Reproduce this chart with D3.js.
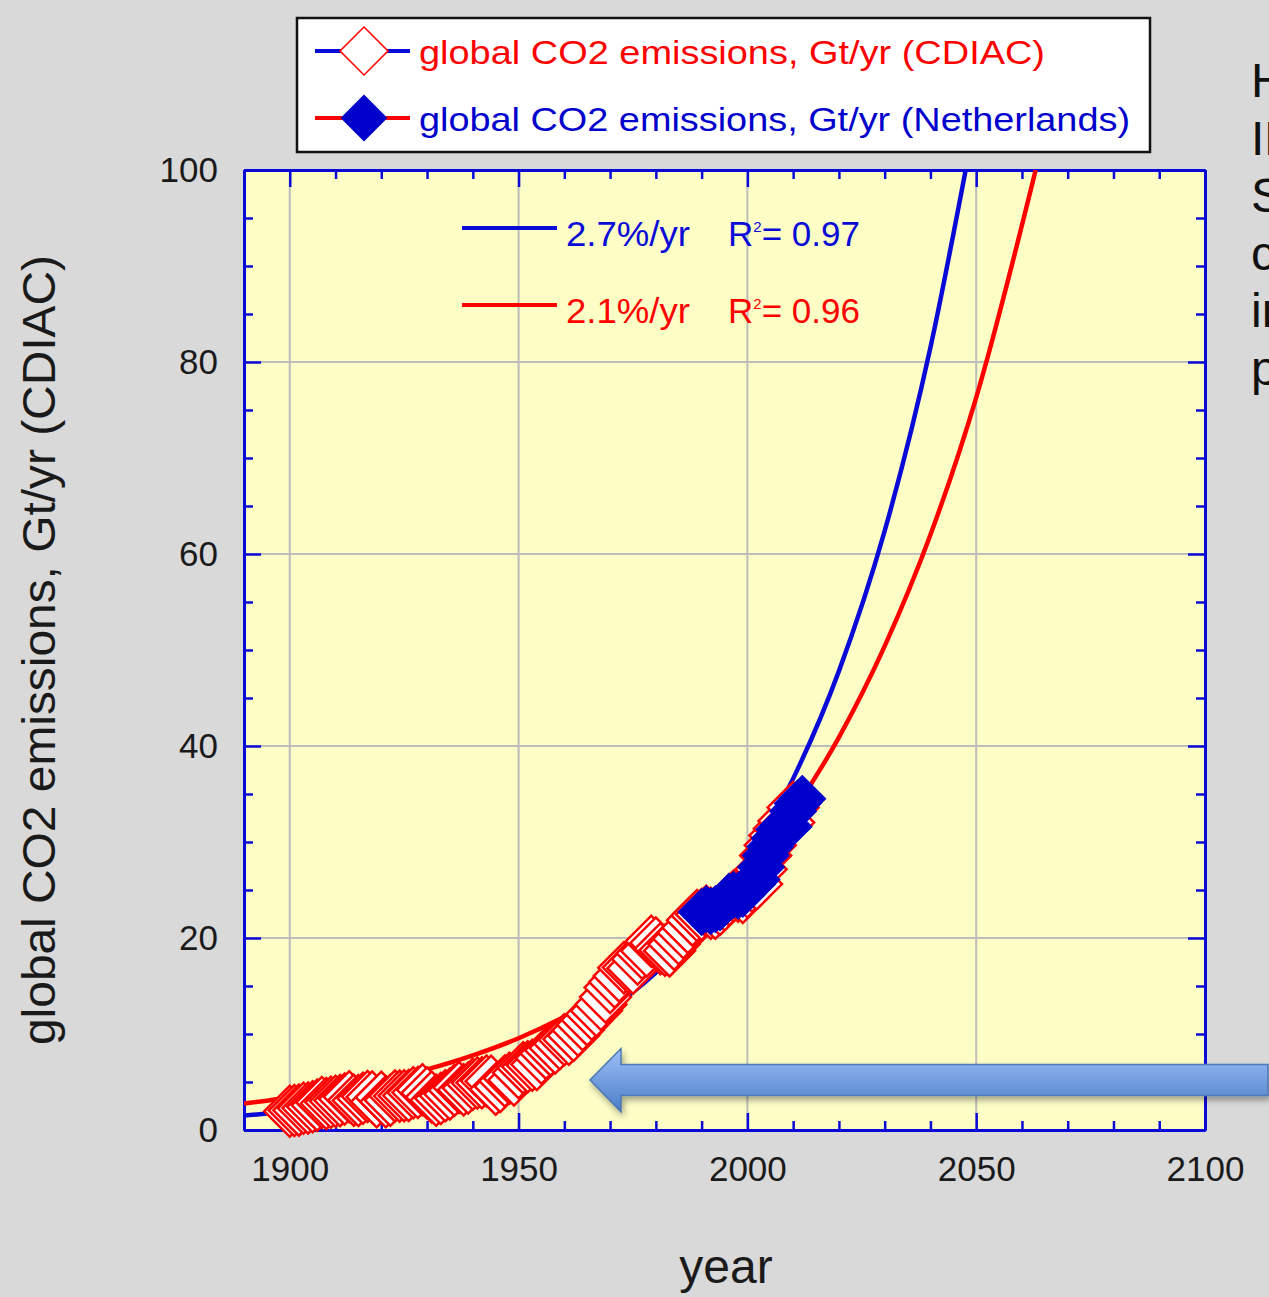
<!DOCTYPE html>
<html>
<head>
<meta charset="utf-8">
<script src="https://cdn.jsdelivr.net/npm/d3@7"></script>
<style>
  body { margin: 0; background: #d9d9d9; overflow: hidden; }
  text { font-family: "Liberation Sans", Arial, Helvetica, sans-serif; }
</style>
</head>
<body>
<svg id="chart" width="1269" height="1297"></svg>
<script>
// global CO2 emissions, Gt CO2 per year (CDIAC), one value per year from 1900
const cdiacStart = 1900;
const cdiacValues = [
  1.96, 2.02, 2.07, 2.26, 2.29, 2.43, 2.59, 2.87, 2.75, 2.88,
  3.00, 3.06, 3.22, 3.46, 3.11, 3.07, 3.30, 3.50, 3.43, 2.95,
  3.41, 2.94, 3.10, 3.55, 3.53, 3.57, 3.60, 3.89, 3.90, 4.20,
  3.86, 3.44, 3.10, 3.27, 3.57, 3.76, 4.14, 4.43, 4.18, 4.37,
  4.76, 4.89, 4.92, 5.10, 5.07, 4.25, 4.54, 5.10, 5.38, 5.20,
  5.97, 6.47, 6.58, 6.75, 6.83, 7.48, 7.98, 8.32, 8.54, 8.99,
  9.41, 9.45, 9.84, 10.38, 10.97, 11.47, 12.05, 12.43, 13.07, 13.85,
  14.85, 15.42, 16.03, 16.91, 16.94, 16.84, 17.82, 18.42, 18.64, 19.67,
  19.47, 18.88, 18.73, 18.66, 19.35, 19.93, 20.54, 21.08, 21.86, 22.34,
  22.45, 22.78, 22.58, 22.58, 22.96, 23.44, 23.97, 24.37, 24.34, 24.22,
  24.79, 25.38, 25.63, 27.17, 28.60, 29.65, 30.67, 31.39, 32.18, 32.02,
  33.59
];

// global CO2 emissions, Gt CO2 per year (Netherlands / PBL), from 1990
const nlStart = 1990;
const nlValues = [
  22.7, 23.0, 22.8, 23.0, 23.2, 23.7, 24.3, 24.5, 24.4, 24.6,
  25.3, 25.6, 26.1, 27.4, 28.6, 29.5, 30.4, 31.3, 31.8, 31.6,
  33.2, 34.0, 34.5
];

// exponential fits
const fitBlueYears  = [1890, 1900, 1910, 1920, 1930, 1940, 1950, 1960, 1970, 1980, 1990, 2000, 2010, 2020, 2030, 2040, 2047.7];
const fitBlueValues = [1.5, 1.95, 2.55, 3.32, 4.34, 5.66, 7.39, 9.65, 12.6, 16.4, 21.5, 28.0, 36.6, 47.8, 62.4, 81.5, 100];
const fitRedYears   = [1890, 1900, 1910, 1920, 1930, 1940, 1950, 1960, 1970, 1980, 1990, 2000, 2010, 2020, 2030, 2040, 2050, 2063];
const fitRedValues  = [2.75, 3.38, 4.17, 5.13, 6.31, 7.77, 9.56, 11.8, 14.5, 17.8, 21.9, 27.0, 33.2, 40.9, 50.4, 62.0, 76.3, 100];

const xMajorTicks = [1900, 1950, 2000, 2050, 2100];
const yMajorTicks = [0, 20, 40, 60, 80, 100];

const legendLabels = [
  "global CO2 emissions, Gt/yr (CDIAC)",
  "global CO2 emissions, Gt/yr (Netherlands)"
];
const fitLabels = [
  { rate: "2.7%/yr", r2: "0.97" },
  { rate: "2.1%/yr", r2: "0.96" }
];
const sideWords = ["How", "IPCC", "Scenarios", "compare", "in", "projections"];

const BLUE = "#0a0ad8";
const RED = "#ff0000";

const svg = d3.select("#chart");

const x = d3.scaleLinear().domain([1890, 2100]).range([244, 1205]);
const y = d3.scaleLinear().domain([0, 100]).range([1130, 170]);

const defs = svg.append("defs");
defs.append("clipPath").attr("id", "plotClip")
  .append("rect")
  .attr("x", x(1890)).attr("y", y(100))
  .attr("width", x(2100) - x(1890)).attr("height", y(0) - y(100));

const grad = defs.append("linearGradient").attr("id", "arrowGrad")
  .attr("x1", 0).attr("y1", 0).attr("x2", 0).attr("y2", 1);
grad.append("stop").attr("offset", "0%").attr("stop-color", "#9dc0f7");
grad.append("stop").attr("offset", "100%").attr("stop-color", "#4a7dc7");

const shadow = defs.append("filter").attr("id", "shadow")
  .attr("x", "-10%").attr("y", "-30%").attr("width", "130%").attr("height", "180%");
shadow.append("feDropShadow")
  .attr("dx", 2).attr("dy", 4).attr("stdDeviation", 3)
  .attr("flood-color", "#000").attr("flood-opacity", 0.35);

// plot background
svg.append("rect")
  .attr("x", x(1890)).attr("y", y(100))
  .attr("width", x(2100) - x(1890)).attr("height", y(0) - y(100))
  .attr("fill", "#fdfdc6");

// grid
svg.append("g").selectAll("line")
  .data(xMajorTicks.filter(d => d < 2100))
  .join("line")
  .attr("x1", d => x(d)).attr("x2", d => x(d))
  .attr("y1", y(100)).attr("y2", y(0))
  .attr("stroke", "#bdbdbd").attr("stroke-width", 2);

svg.append("g").selectAll("line")
  .data(yMajorTicks.filter(d => d > 0 && d < 100))
  .join("line")
  .attr("x1", x(1890)).attr("x2", x(2100))
  .attr("y1", d => y(d)).attr("y2", d => y(d))
  .attr("stroke", "#bdbdbd").attr("stroke-width", 2);

// axes, ticks inward on all four sides
const xMinor = d3.range(1890, 2101, 10).filter(d => !xMajorTicks.includes(d));
const yMinor = d3.range(0, 101, 5).filter(d => !yMajorTicks.includes(d));

function styleAxis(g, keepLabels) {
  g.selectAll(".domain").attr("stroke", BLUE).attr("stroke-width", 3);
  g.selectAll(".tick line").attr("stroke", BLUE).attr("stroke-width", 2.5);
  if (!keepLabels) g.selectAll(".tick text").remove();
  else g.selectAll(".tick text")
    .attr("fill", "#1a1a1a")
    .style("font-size", "35px")
    .style("font-family", "'Liberation Sans', Arial, sans-serif");
}

svg.append("g").attr("transform", `translate(0,${y(0)})`)
  .call(d3.axisBottom(x).tickValues(xMinor).tickSize(-9).tickSizeOuter(0).tickFormat(""))
  .call(g => styleAxis(g, false));
svg.append("g").attr("transform", `translate(0,${y(0)})`)
  .call(d3.axisBottom(x).tickValues(xMajorTicks).tickSize(-17).tickSizeOuter(0).tickPadding(26).tickFormat(d3.format("d")))
  .call(g => styleAxis(g, true));
svg.append("g").attr("transform", `translate(0,${y(100)})`)
  .call(d3.axisTop(x).tickValues(xMinor).tickSize(-9).tickSizeOuter(0).tickFormat(""))
  .call(g => styleAxis(g, false));
svg.append("g").attr("transform", `translate(0,${y(100)})`)
  .call(d3.axisTop(x).tickValues(xMajorTicks).tickSize(-17).tickSizeOuter(0).tickFormat(""))
  .call(g => styleAxis(g, false));

svg.append("g").attr("transform", `translate(${x(1890)},0)`)
  .call(d3.axisLeft(y).tickValues(yMinor).tickSize(-9).tickSizeOuter(0).tickFormat(""))
  .call(g => styleAxis(g, false));
svg.append("g").attr("transform", `translate(${x(1890)},0)`)
  .call(d3.axisLeft(y).tickValues(yMajorTicks).tickSize(-17).tickSizeOuter(0).tickPadding(26))
  .call(g => styleAxis(g, true));
svg.append("g").attr("transform", `translate(${x(2100)},0)`)
  .call(d3.axisRight(y).tickValues(yMinor).tickSize(-9).tickSizeOuter(0).tickFormat(""))
  .call(g => styleAxis(g, false));
svg.append("g").attr("transform", `translate(${x(2100)},0)`)
  .call(d3.axisRight(y).tickValues(yMajorTicks).tickSize(-17).tickSizeOuter(0).tickFormat(""))
  .call(g => styleAxis(g, false));

// fit curves
const line = d3.line().x(d => x(d[0])).y(d => y(d[1])).curve(d3.curveMonotoneX);
const fits = [
  { pts: d3.zip(fitBlueYears, fitBlueValues), color: BLUE },
  { pts: d3.zip(fitRedYears, fitRedValues), color: RED }
];
svg.append("g").attr("clip-path", "url(#plotClip)")
  .selectAll("path")
  .data(fits)
  .join("path")
  .attr("d", d => line(d.pts))
  .attr("fill", "none")
  .attr("stroke", d => d.color)
  .attr("stroke-width", 4.5);

// markers: squares rotated 45deg
const diamond = size => d3.symbol().type(d3.symbolSquare).size(size)();

const cdiac = cdiacValues.map((v, i) => [cdiacStart + i, v]);
const nl = nlValues.map((v, i) => [nlStart + i, v]);

svg.append("g").selectAll("path")
  .data(cdiac)
  .join("path")
  .attr("d", diamond(1300))
  .attr("transform", d => `translate(${x(d[0])},${y(d[1])}) rotate(45)`)
  .attr("fill", "#fff")
  .attr("stroke", RED)
  .attr("stroke-width", 2.5);

svg.append("g").selectAll("path")
  .data(nl)
  .join("path")
  .attr("d", diamond(1100))
  .attr("transform", d => `translate(${x(d[0])},${y(d[1])}) rotate(45)`)
  .attr("fill", "#0000cc")
  .attr("stroke", "#0000cc")
  .attr("stroke-width", 1);

// fit legend inside the plot
const fitColors = [BLUE, RED];
const fitRowY = [228, 305];
fitLabels.forEach((f, i) => {
  const g = svg.append("g").attr("fill", fitColors[i]).style("font-size", "35px");
  g.append("line")
    .attr("x1", 462).attr("x2", 557)
    .attr("y1", fitRowY[i]).attr("y2", fitRowY[i])
    .attr("stroke", fitColors[i]).attr("stroke-width", 4);
  g.append("text").attr("x", 566).attr("y", fitRowY[i] + 18)
    .attr("textLength", 124).attr("lengthAdjust", "spacingAndGlyphs")
    .text(f.rate);
  const t = g.append("text").attr("x", 728).attr("y", fitRowY[i] + 18);
  t.append("tspan").text("R");
  t.append("tspan").attr("dy", -14).style("font-size", "15px").text("2");
  t.append("tspan").attr("dy", 14).text("= " + f.r2);
});

// series legend box
svg.append("rect")
  .attr("x", 297).attr("y", 18).attr("width", 853).attr("height", 134)
  .attr("fill", "#fff").attr("stroke", "#111").attr("stroke-width", 2.5);

const legRowY = [51, 118];
const legLineColor = [BLUE, RED];
const legTextColor = [RED, "#0000cc"];
const legTextLen = [626, 711];
legendLabels.forEach((label, i) => {
  svg.append("line")
    .attr("x1", 315).attr("x2", 410)
    .attr("y1", legRowY[i]).attr("y2", legRowY[i])
    .attr("stroke", legLineColor[i]).attr("stroke-width", 4);
  svg.append("path")
    .attr("d", diamond(i === 0 ? 1150 : 1000))
    .attr("transform", `translate(364,${legRowY[i]}) rotate(45)`)
    .attr("fill", i === 0 ? "#fff" : "#0000cc")
    .attr("stroke", i === 0 ? RED : "#0000cc")
    .attr("stroke-width", 1.5);
  svg.append("text")
    .attr("x", 419).attr("y", legRowY[i] + 13)
    .attr("fill", legTextColor[i])
    .style("font-size", "34px")
    .attr("textLength", legTextLen[i]).attr("lengthAdjust", "spacingAndGlyphs")
    .text(label);
});

// axis titles
svg.append("text")
  .attr("transform", "translate(55,650) rotate(-90)")
  .attr("text-anchor", "middle")
  .attr("fill", "#1a1a1a")
  .style("font-size", "46px")
  .attr("textLength", 790).attr("lengthAdjust", "spacingAndGlyphs")
  .text("global CO2 emissions, Gt/yr (CDIAC)");

svg.append("text")
  .attr("x", 726).attr("y", 1283)
  .attr("text-anchor", "middle")
  .attr("fill", "#1a1a1a")
  .style("font-size", "48px")
  .text("year");

// slide text that runs off the right edge in the original
svg.append("g").selectAll("text")
  .data(sideWords)
  .join("text")
  .attr("x", 1251)
  .attr("y", (d, i) => 97 + i * 57.6)
  .attr("fill", "#111")
  .style("font-size", "48px")
  .text(d => d);

// arrow
svg.append("path")
  .attr("d", "M590,1080 L621,1048.5 L621,1064.5 L1268,1064.5 L1268,1095.5 L621,1095.5 L621,1112 Z")
  .attr("fill", "url(#arrowGrad)")
  .attr("stroke", "#4d78b3")
  .attr("stroke-width", 1.5)
  .attr("filter", "url(#shadow)");
</script>
</body>
</html>
